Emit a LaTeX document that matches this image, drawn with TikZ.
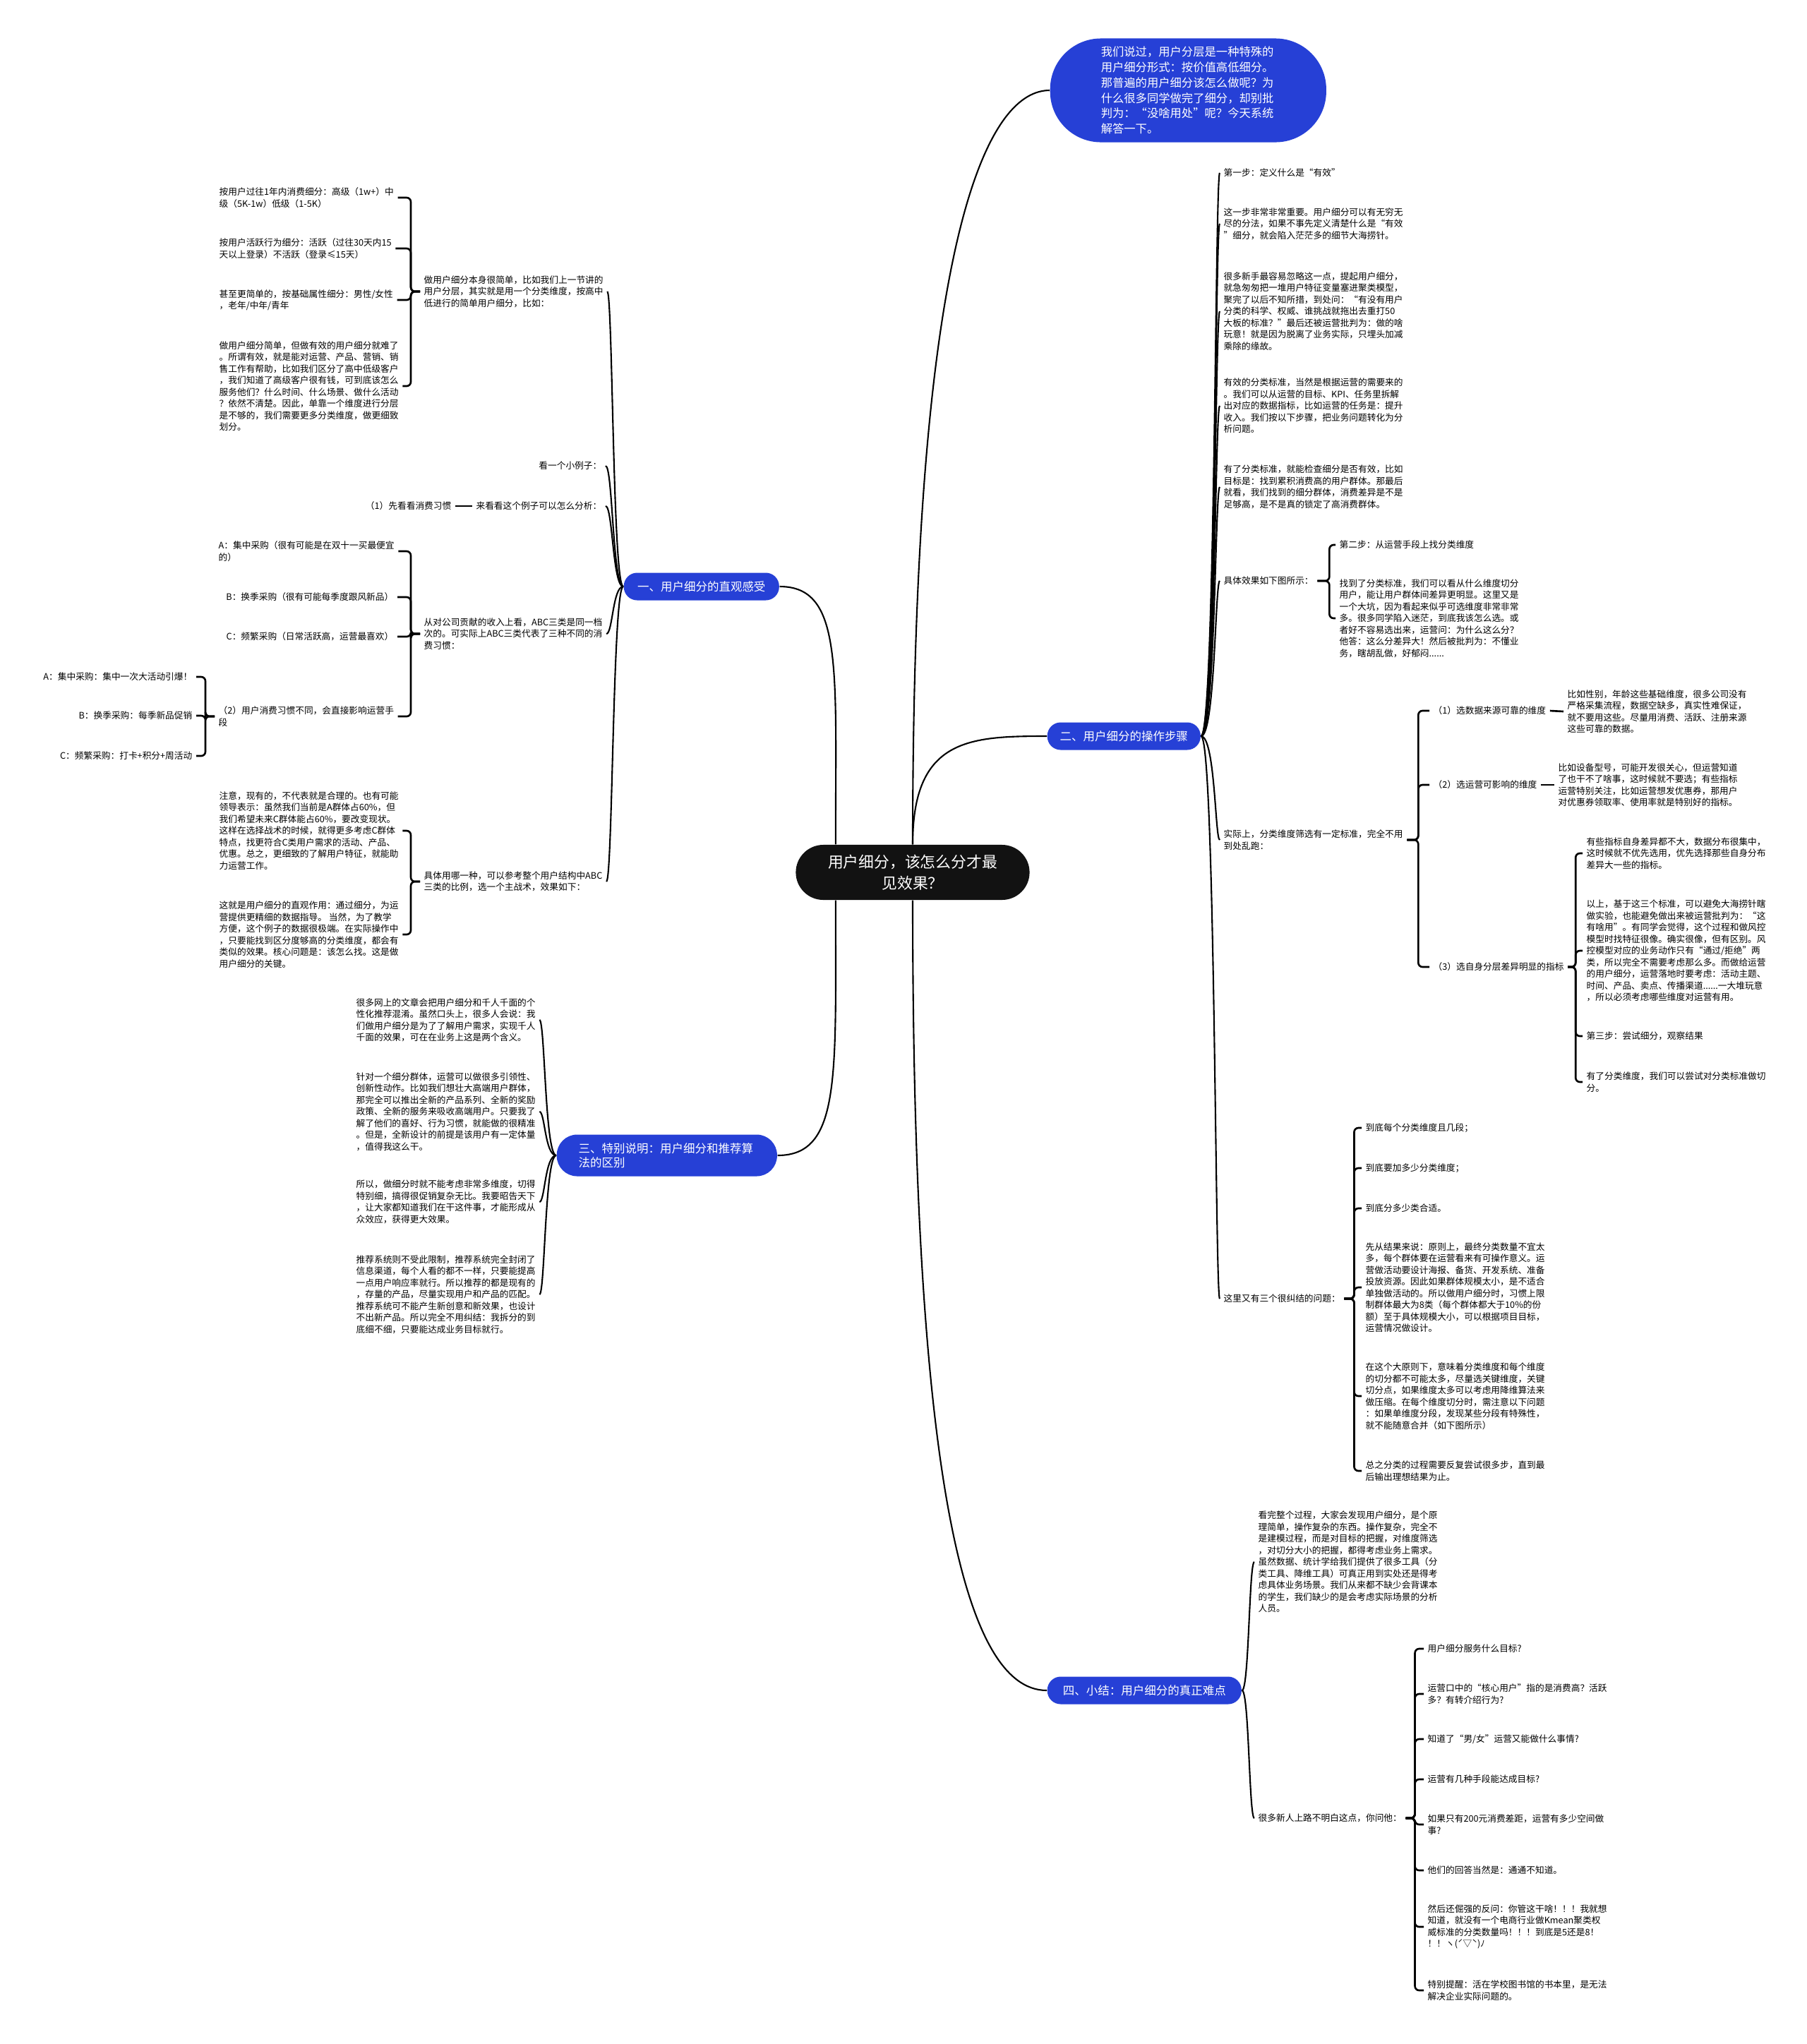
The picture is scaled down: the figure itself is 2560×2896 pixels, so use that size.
\documentclass[tikz,border=0pt]{standalone}
\usepackage{fontspec}
\setmainfont{Noto Sans CJK SC}
\usetikzlibrary{calc}
\definecolor{mindblue}{RGB}{38,64,214}
\definecolor{hubblack}{RGB}{18,18,18}

\begin{document}
\begin{tikzpicture}[
    x=0.01cm, y=-0.01cm,
    hub/.style={rectangle, fill=hubblack, text=white, rounded corners=0.39cm, minimum width=3.31cm, minimum height=0.78cm, align=center, font=\fontsize{6.2pt}{8.4pt}\selectfont},
    intro/.style={rectangle, fill=mindblue, text=white, rounded corners=0.72cm, text width=2.47cm, inner xsep=0.72cm, minimum height=1.46cm, align=left, font=\fontsize{4.64pt}{6.17pt}\selectfont},
    branch/.style={rectangle, fill=mindblue, text=white, rounded corners=0.19cm, minimum height=0.39cm, align=center, font=\fontsize{4.69pt}{5.69pt}\selectfont},
    note/.style={inner xsep=0.05cm, inner ysep=0.02cm, align=left, font=\fontsize{3.61pt}{4.69pt}\selectfont},
    link/.style={line width=0.6pt},
    brace/.style={line width=0.75pt, rounded corners=0.06cm},
    sweep/.style={to path={.. controls ([xshift=#1]\tikztostart) and ([xshift=#1]\tikztostart |- \tikztotarget) .. (\tikztotarget)}},
    bracket/.style={to path={-- ++(#1,0) |- (\tikztotarget)}}
]
\fill[white] (0,0) rectangle (2560,2896);
\useasboundingbox (0,0) rectangle (2560,2896);

% Centre, intro and the four branches
\node[hub] (hub) at (1293,1236) {用户细分，该怎么分才最\\见效果？};
\node[intro, anchor=west] (intro) at (1487,128) {我们说过，用户分层是一种特殊的\\用户细分形式：按价值高低细分。\\那普遍的用户细分该怎么做呢？为\\什么很多同学做完了细分，却别批\\判为：“没啥用处”呢？今天系统\\解答一下。};
\node[branch, minimum width=2.2cm, anchor=west] (intuit) at (883,831) {一、用户细分的直观感受};
\node[branch, minimum width=2.17cm, anchor=west] (steps) at (1483,1043) {二、用户细分的操作步骤};
\node[branch, text width=2.5cm, inner xsep=0.31cm, minimum height=0.59cm, rounded corners=0.29cm, align=left, anchor=west] (recsys) at (788,1637) {三、特别说明：用户细分和推荐算\\法的区别};
\node[branch, minimum width=2.75cm, anchor=west] (summary) at (1483,2395) {四、小结：用户细分的真正难点};

\draw[link] (hub.north) .. controls +(0,-900) and +(-80,0) .. (intro.west);
\draw[link] (hub.north) .. controls +(0,-150) and +(-110,0) .. (steps.west);
\draw[link] (hub.south) .. controls +(0,800) and +(-120,0) .. (summary.west);
\draw[link] (hub.160) .. controls +(0,-250) and +(90,0) .. (intuit.east);
\draw[link] (hub.200) .. controls +(0,250) and +(90,0) .. (recsys.east);

% Branch one: left side
\node[note, anchor=west] (simple) at (595,413) {做用户细分本身很简单，比如我们上一节讲的\\用户分层，其实就是用一个分类维度，按高中\\低进行的简单用户细分，比如：};
\node[note, anchor=west] (byspend) at (305,280) {按用户过往1年内消费细分：高级（1w+）中\\级（5K-1w）低级（1-5K）};
\node[note, anchor=west] (byactive) at (305,352) {按用户活跃行为细分：活跃（过往30天内15\\天以上登录）不活跃（登录≤15天）};
\node[note, anchor=west] (byattr) at (305,425) {甚至更简单的，按基础属性细分：男性/女性\\，老年/中年/青年};
\node[note, anchor=west] (effective) at (305,547) {做用户细分简单，但做有效的用户细分就难了\\。所谓有效，就是能对运营、产品、营销、销\\售工作有帮助，比如我们区分了高中低级客户\\，我们知道了高级客户很有钱，可到底该怎么\\服务他们？什么时间、什么场景、做什么活动\\？依然不清楚。因此，单靠一个维度进行分层\\是不够的，我们需要更多分类维度，做更细致\\划分。};
\node[note, anchor=east] (example) at (858,660) {看一个小例子：};
\node[note, anchor=east] (analyse) at (858,717) {来看看这个例子可以怎么分析：};
\node[note, anchor=east] (habit) at (645,717) {（1）先看看消费习惯};
\node[note, anchor=west] (abc) at (595,898) {从对公司贡献的收入上看，ABC三类是同一档\\次的。可实际上ABC三类代表了三种不同的消\\费习惯：};
\node[note, anchor=west] (abcA) at (304,781) {A：集中采购（很有可能是在双十一买最便宜\\的）};
\node[note, anchor=east] (abcB) at (563,846) {B：换季采购（很有可能每季度跟风新品）};
\node[note, anchor=east] (abcC) at (563,902) {C：频繁采购（日常活跃高，运营最喜欢）};
\node[note, anchor=west] (habit2) at (304,1015) {（2）用户消费习惯不同，会直接影响运营手\\段};
\node[note, anchor=east] (tacA) at (278,959) {A：集中采购：集中一次大活动引爆！};
\node[note, anchor=east] (tacB) at (278,1014) {B：换季采购：每季新品促销};
\node[note, anchor=east] (tacC) at (278,1071) {C：频繁采购：打卡+积分+周活动};
\node[note, anchor=west] (choose) at (595,1249) {具体用哪一种，可以参考整个用户结构中ABC\\三类的比例，选一个主战术，效果如下：};
\node[note, anchor=west] (notice) at (305,1177) {注意，现有的，不代表就是合理的。也有可能\\领导表示：虽然我们当前是A群体占60\%，但\\我们希望未来C群体能占60\%，要改变现状。\\这样在选择战术的时候，就得更多考虑C群体\\特点，找更符合C类用户需求的活动、产品、\\优惠。总之，更细致的了解用户特征，就能助\\力运营工作。};
\node[note, anchor=west] (role) at (305,1324) {这就是用户细分的直观作用：通过细分，为运\\营提供更精细的数据指导。 当然，为了教学\\方便，这个例子的数据很极端。在实际操作中\\，只要能找到区分度够高的分类维度，都会有\\类似的效果。核心问题是：该怎么找。这是做\\用户细分的关键。};

\foreach \c in {simple, example, analyse, abc, choose}
    \draw[link] (intuit.west) to[sweep=-0.15cm] (\c.east);
\foreach \c in {byspend, byactive, byattr, effective}
    \draw[brace] (simple.west) to[bracket=-13] (\c.east);
\draw[brace] (analyse.west) -- (habit.east);
\foreach \c in {abcA, abcB, abcC, habit2}
    \draw[brace] (abc.west) to[bracket=-13] (\c.east);
\foreach \c in {tacA, tacB, tacC}
    \draw[brace] (habit2.west) to[bracket=-13] (\c.east);
\foreach \c in {notice, role}
    \draw[brace] (choose.west) to[bracket=-13] (\c.east);

% Branch three: left side
\node[note, anchor=west] (mixup) at (499,1445) {很多网上的文章会把用户细分和千人千面的个\\性化推荐混淆。虽然口头上，很多人会说：我\\们做用户细分是为了了解用户需求，实现千人\\千面的效果，可在在业务上这是两个含义。};
\node[note, anchor=west] (create) at (499,1575) {针对一个细分群体，运营可以做很多引领性、\\创新性动作。比如我们想壮大高端用户群体，\\那完全可以推出全新的产品系列、全新的奖励\\政策、全新的服务来吸收高端用户。只要我了\\解了他们的喜好、行为习惯，就能做的很精准\\。但是，全新设计的前提是该用户有一定体量\\，值得我这么干。};
\node[note, anchor=west] (sothat) at (499,1703) {所以，做细分时就不能考虑非常多维度，切得\\特别细，搞得很促销复杂无比。我要昭告天下\\，让大家都知道我们在干这件事，才能形成从\\众效应，获得更大效果。};
\node[note, anchor=west] (recommend) at (499,1834) {推荐系统则不受此限制，推荐系统完全封闭了\\信息渠道，每个人看的都不一样，只要能提高\\一点用户响应率就行。所以推荐的都是现有的\\，存量的产品，尽量实现用户和产品的匹配。\\推荐系统可不能产生新创意和新效果，也设计\\不出新产品。所以完全不用纠结：我拆分的到\\底细不细，只要能达成业务目标就行。};

\foreach \c in {mixup, create, sothat, recommend}
    \draw[link] (recsys.west) to[sweep=-0.16cm] (\c.east);

% Branch two: right side
\node[note, anchor=west] (step1) at (1728,245) {第一步：定义什么是“有效”};
\node[note, anchor=west] (important) at (1728,317) {这一步非常非常重要。用户细分可以有无穷无\\尽的分法，如果不事先定义清楚什么是“有效\\”细分，就会陷入茫茫多的细节大海捞针。};
\node[note, anchor=west] (novice) at (1728,441) {很多新手最容易忽略这一点，提起用户细分，\\就急匆匆把一堆用户特征变量塞进聚类模型，\\聚完了以后不知所措，到处问：“有没有用户\\分类的科学、权威、谁挑战就拖出去重打50\\大板的标准？”最后还被运营批判为：做的啥\\玩意！就是因为脱离了业务实际，只埋头加减\\乘除的缘故。};
\node[note, anchor=west] (standard) at (1728,575) {有效的分类标准，当然是根据运营的需要来的\\。我们可以从运营的目标、KPI、任务里拆解\\出对应的数据指标，比如运营的任务是：提升\\收入。我们按以下步骤，把业务问题转化为分\\析问题。};
\node[note, anchor=west] (check) at (1728,690) {有了分类标准，就能检查细分是否有效，比如\\目标是：找到累积消费高的用户群体。那最后\\就看，我们找到的细分群体，消费差异是不是\\足够高，是不是真的锁定了高消费群体。};
\node[note, anchor=west] (effect) at (1728,823) {具体效果如下图所示：};
\node[note, anchor=west] (step2) at (1892,772) {第二步：从运营手段上找分类维度};
\node[note, anchor=west] (pitfall) at (1892,876) {找到了分类标准，我们可以看从什么维度切分\\用户，能让用户群体间差异更明显。这里又是\\一个大坑，因为看起来似乎可选维度非常非常\\多。很多同学陷入迷茫，到底我该怎么选。或\\者好不容易选出来，运营问：为什么这么分？\\他答：这么分差异大！然后被批判为：不懂业\\务，瞎胡乱做，好郁闷......};
\node[note, anchor=west] (actually) at (1728,1190) {实际上，分类维度筛选有一定标准，完全不用\\到处乱跑：};
\node[note, anchor=west] (dim1) at (2025,1007) {（1）选数据来源可靠的维度};
\node[note, anchor=west] (dim1x) at (2215,1008) {比如性别，年龄这些基础维度，很多公司没有\\严格采集流程，数据空缺多，真实性难保证，\\就不要用这些。尽量用消费、活跃、注册来源\\这些可靠的数据。};
\node[note, anchor=west] (dim2) at (2025,1112) {（2）选运营可影响的维度};
\node[note, anchor=west] (dim2x) at (2202,1112) {比如设备型号，可能开发很关心，但运营知道\\了也干不了啥事，这时候就不要选；有些指标\\运营特别关注，比如运营想发优惠券，那用户\\对优惠券领取率、使用率就是特别好的指标。};
\node[note, anchor=west] (dim3) at (2025,1370) {（3）选自身分层差异明显的指标};
\node[note, anchor=west] (dim3a) at (2242,1209) {有些指标自身差异都不大，数据分布很集中，\\这时候就不优先选用，优先选择那些自身分布\\差异大一些的指标。};
\node[note, anchor=west] (dim3b) at (2242,1347) {以上，基于这三个标准，可以避免大海捞针瞎\\做实验，也能避免做出来被运营批判为：“这\\有啥用”。有同学会觉得，这个过程和做风控\\模型时找特征很像。确实很像，但有区别。风\\控模型对应的业务动作只有“通过/拒绝”两\\类，所以完全不需要考虑那么多。而做给运营\\的用户细分，运营落地时要考虑：活动主题、\\时间、产品、卖点、传播渠道......一大堆玩意\\，所以必须考虑哪些维度对运营有用。};
\node[note, anchor=west] (step3) at (2242,1468) {第三步：尝试细分，观察结果};
\node[note, anchor=west] (tryit) at (2242,1533) {有了分类维度，我们可以尝试对分类标准做切\\分。};
\node[note, anchor=west] (tangle) at (1728,1840) {这里又有三个很纠结的问题：};
\node[note, anchor=west] (q1) at (1929,1598) {到底每个分类维度且几段；};
\node[note, anchor=west] (q2) at (1929,1655) {到底要加多少分类维度；};
\node[note, anchor=west] (q3) at (1929,1712) {到底分多少类合适。};
\node[note, anchor=west] (result) at (1929,1824) {先从结果来说：原则上，最终分类数量不宜太\\多，每个群体要在运营看来有可操作意义。运\\营做活动要设计海报、备货、开发系统、准备\\投放资源。因此如果群体规模太小，是不适合\\单独做活动的。所以做用户细分时，习惯上限\\制群体最大为8类（每个群体都大于10\%的份\\额）至于具体规模大小，可以根据项目目标，\\运营情况做设计。};
\node[note, anchor=west] (principle) at (1929,1978) {在这个大原则下，意味着分类维度和每个维度\\的切分都不可能太多，尽量选关键维度，关键\\切分点，如果维度太多可以考虑用降维算法来\\做压缩。在每个维度切分时，需注意以下问题\\：如果单维度分段，发现某些分段有特殊性，\\就不能随意合并（如下图所示）};
\node[note, anchor=west] (iterate) at (1929,2084) {总之分类的过程需要反复尝试很多步，直到最\\后输出理想结果为止。};

\foreach \c in {step1, important, novice, standard, check, effect, actually, tangle}
    \draw[link] (steps.east) to[sweep=0.2cm] (\c.west);
\foreach \c in {step2, pitfall}
    \draw[brace] (effect.east) to[bracket=17] (\c.west);
\foreach \c in {dim1, dim2, dim3}
    \draw[brace] (actually.east) to[bracket=16] (\c.west);
\draw[brace] (dim1.east) -- (dim1x.west);
\draw[brace] (dim2.east) -- (dim2x.west);
\foreach \c in {dim3a, dim3b, step3, tryit}
    \draw[brace] (dim3.east) to[bracket=11] (\c.west);
\foreach \c in {q1, q2, q3, result, principle, iterate}
    \draw[brace] (tangle.east) to[bracket=14] (\c.west);

% Branch four: right side
\node[note, anchor=west] (review) at (1777,2213) {看完整个过程，大家会发现用户细分，是个原\\理简单，操作复杂的东西。操作复杂，完全不\\是建模过程，而是对目标的把握，对维度筛选\\，对切分大小的把握，都得考虑业务上需求。\\虽然数据、统计学给我们提供了很多工具（分\\类工具、降维工具）可真正用到实处还是得考\\虑具体业务场景。我们从来都不缺少会背课本\\的学生，我们缺少的是会考虑实际场景的分析\\人员。};
\node[note, anchor=west] (newbie) at (1777,2576) {很多新人上路不明白这点，你问他：};
\node[note, anchor=west] (ask1) at (2017,2336) {用户细分服务什么目标?};
\node[note, anchor=west] (ask2) at (2017,2400) {运营口中的“核心用户”指的是消费高？活跃\\多？有转介绍行为?};
\node[note, anchor=west] (ask3) at (2017,2464) {知道了“男/女”运营又能做什么事情?};
\node[note, anchor=west] (ask4) at (2017,2521) {运营有几种手段能达成目标?};
\node[note, anchor=west] (ask5) at (2017,2585) {如果只有200元消费差距，运营有多少空间做\\事?};
\node[note, anchor=west] (ask6) at (2017,2650) {他们的回答当然是：通通不知道。};
\node[note, anchor=west] (ask7) at (2017,2730) {然后还倔强的反问：你管这干啥！！！我就想\\知道，就没有一个电商行业做Kmean聚类权\\威标准的分类数量吗！！！到底是5还是8！\\！！ヽ(ˊ▽ˋ)ﾉ};
\node[note, anchor=west] (ask8) at (2017,2820) {特别提醒：活在学校图书馆的书本里，是无法\\解决企业实际问题的。};

\foreach \c in {review, newbie}
    \draw[link] (summary.east) to[sweep=0.1cm] (\c.west);
\foreach \c in {ask1, ask2, ask3, ask4, ask5, ask6, ask7, ask8}
    \draw[brace] (newbie.east) to[bracket=13] (\c.west);

\end{tikzpicture}
\end{document}
